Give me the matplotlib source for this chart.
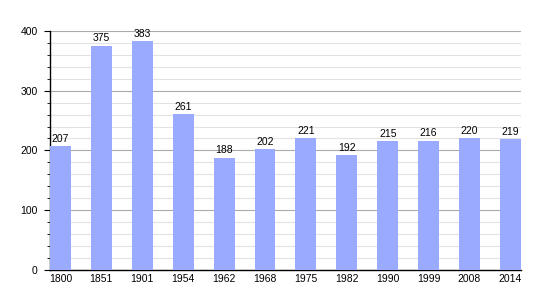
import matplotlib
matplotlib.use("Agg")
import matplotlib.pyplot as plt
from matplotlib.ticker import MultipleLocator

plt.rcParams['font.family'] = ['Liberation Sans', 'DejaVu Sans']

years = ["1800", "1851", "1901", "1954", "1962", "1968", "1975", "1982", "1990", "1999", "2008", "2014"]
population = [207, 375, 383, 261, 188, 202, 221, 192, 215, 216, 220, 219]

fig = plt.figure(figsize=(5.5, 3), dpi=100)
ax = fig.add_axes([0.091, 0.1, 0.856, 0.797])

x = list(range(len(years)))
width = 0.51
ax.bar(x, population, width=width, color="#99aaff", zorder=3)

for xi, v in zip(x, population):
    ax.text(xi, v + 4, str(v), ha="center", va="bottom", fontsize=7.5, zorder=4)

ax.set_xlim(-width / 2, len(years) - 1 + width / 2)
ax.set_ylim(0, 400)
ax.set_xticks(x)
ax.set_xticklabels(years)
ax.yaxis.set_major_locator(MultipleLocator(100))
ax.yaxis.set_minor_locator(MultipleLocator(20))

ax.grid(axis="y", which="major", color="#aaaaaa", linewidth=0.8, zorder=0)
ax.grid(axis="y", which="minor", color="#e2e2e2", linewidth=0.8, zorder=0)

ax.spines["top"].set_visible(False)
ax.spines["right"].set_visible(False)
ax.spines["left"].set_linewidth(1)
ax.spines["bottom"].set_linewidth(1)

ax.tick_params(axis="x", length=0, labelsize=7.5, pad=3)
ax.tick_params(axis="y", which="major", length=4, labelsize=7.5, pad=5)
ax.tick_params(axis="y", which="minor", length=2)

fig.savefig("out.png", dpi=100)
